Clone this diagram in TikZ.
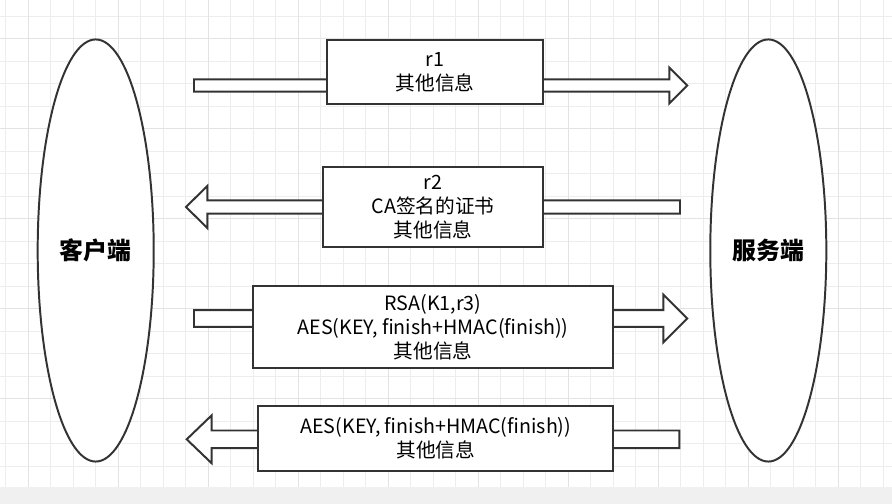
\documentclass[tikz,border=0pt]{standalone}
\usepackage{fontspec}
\setmainfont{Noto Sans CJK SC}
\usetikzlibrary{shapes.geometric,calc}
\usepackage{xcolor}

\definecolor{linecol}{HTML}{333333}
\definecolor{gridminor}{HTML}{EDEDED}
\definecolor{gridmajor}{HTML}{E3E3E3}
\definecolor{stripcol}{HTML}{F0F0F0}

\newcommand\msgfont{\fontsize{14pt}{17pt}\selectfont}
\newcommand\partyfont{\fontsize{17pt}{20pt}\selectfont\bfseries}
% hollow arrow: from, tip, shaft half, head half, head length (signed)
\newcommand\hollowarrow[5]{%
  \draw[blockarrow] ($(#1)+(0,#3)$) -- ($(#2)+({-1*(#5)},#3)$) -- ($(#2)+({-1*(#5)},#4)$)
    -- (#2) -- ($(#2)+({-1*(#5)},-#4)$) -- ($(#2)+({-1*(#5)},-#3)$) -- ($(#1)+(0,-#3)$) -- cycle;}

\begin{document}
\begin{tikzpicture}[x=0.025cm, y=-0.025cm,
  party/.style={ellipse, draw=linecol, line width=1.4pt, fill=white, minimum width=2.9cm, minimum height=10.55cm, inner sep=0pt, font=\partyfont},
  msg/.style={draw=linecol, line width=1.4pt, fill=white, align=center, inner sep=0pt, font=\msgfont},
  blockarrow/.style={draw=linecol, line width=1.4pt, fill=white, line join=miter}
]
  \useasboundingbox (0,0) rectangle (892,504);
  \fill[stripcol] (0,487) rectangle (892,504);

  % grid
  \foreach \x in {5.8,28.3,...,892} \draw[gridminor, line width=0.6pt] (\x,0) -- (\x,487);
  \foreach \y in {16,38.5,...,487} \draw[gridminor, line width=0.6pt] (0,\y) -- (892,\y);
  \foreach \x in {28.3,118.3,...,892} \draw[gridmajor, line width=0.6pt] (\x,0) -- (\x,487);
  \foreach \y in {38.5,128.5,...,487} \draw[gridmajor, line width=0.6pt] (0,\y) -- (892,\y);

  \node[party] (client) at (95.7,250.5) {客户端};
  \node[party] (server) at (768.3,250.5) {服务端};

  \coordinate (a1s) at (194,85.5);   \coordinate (a1e) at (687.3,85.5);
  \coordinate (a2s) at (680,207);    \coordinate (a2e) at (186,207);
  \coordinate (a3s) at (194,318.5);  \coordinate (a3e) at (687.3,318.5);
  \coordinate (a4s) at (679.3,439.3); \coordinate (a4e) at (186.7,439.3);

  \hollowarrow{a1s}{a1e}{6.2}{18}{18}
  \hollowarrow{a2s}{a2e}{6.7}{21}{-21.3}
  \hollowarrow{a3s}{a3e}{8.3}{24}{24}
  \hollowarrow{a4s}{a4e}{8.8}{24}{-25}

  \node[msg, minimum width=5.385cm, minimum height=1.6cm] (m1) at (435,72) {r1\\其他信息};
  \node[msg, minimum width=5.485cm, minimum height=2cm] (m2) at (433,207.3) {r2\\CA签名的证书\\其他信息};
  \node[msg, minimum width=8.985cm, minimum height=2.05cm] (m3) at (433,327) {RSA(K1,r3)\\AES(KEY, finish+HMAC(finish))\\其他信息};
  \node[msg, minimum width=8.875cm, minimum height=1.625cm] (m4) at (435.8,438.5) {AES(KEY, finish+HMAC(finish))\\其他信息};
\end{tikzpicture}
\end{document}
